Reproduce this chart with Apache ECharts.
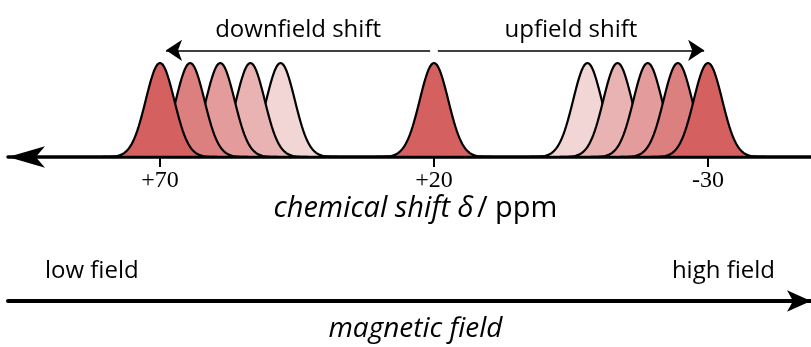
<!DOCTYPE html>
<html>
<head>
<meta charset="utf-8">
<script src="https://cdn.jsdelivr.net/npm/echarts@6/dist/echarts.min.js"></script>
<style>
  html, body { margin: 0; padding: 0; background: #ffffff; }
  #chart { width: 811px; height: 347px; }
</style>
</head>
<body>
<div id="chart"></div>
<script>
// Peak centres on the chemical shift scale (ppm), darkest shade first
const downfieldPeaks = [70, 64.5, 59, 53.5, 48];
const referencePeaks = [20];
const upfieldPeaks = [-30, -24.5, -19, -13.5, -8];
const peakShades = ['#d46060', '#dc7f7f', '#e39b9b', '#eab3b3', '#f2d6d6'];
const peakHeight = 1;

// Labelled ticks of the shift axis
const tickValues = [70, 20, -30];
const tickLabels = ['+70', '+20', '-30'];

// Shift direction arrows: start / end in ppm
const shiftArrowLabels = ['downfield shift', 'upfield shift'];
const shiftArrowFrom = [20.7, 19.3];
const shiftArrowTo = [68.9, -29.3];

// Field direction labels
const fieldLabels = ['low field', 'high field'];

const PEAK_SIGMA = 2.6;     // ppm, width of each Gaussian line
const ARROW_LEVEL = 1.135;  // height of the shift arrows above the baseline

const SANS = '"Open Sans", "Noto Sans", sans-serif';
const SERIF = '"Liberation Serif", serif';

// Build peak items as [centre, shadeIndex]; lighter peaks first so darker ones sit on top
function peakItems(list) {
  const items = list.map((c, i) => [c, i]);
  return items.reverse();
}
const peakData = [].concat(peakItems(downfieldPeaks), peakItems(referencePeaks), peakItems(upfieldPeaks));

function renderPeak(params, api) {
  const c = api.value(0);
  const shade = api.value(1);
  const pts = [];
  const span = 4 * PEAK_SIGMA;
  const n = 80;
  for (let k = 0; k <= n; k++) {
    const x = c - span + (2 * span * k) / n;
    const d = (x - c) / PEAK_SIGMA;
    pts.push(api.coord([x, peakHeight * Math.exp(-0.5 * d * d)]));
  }
  return {
    type: 'polygon',
    shape: { points: pts },
    style: { fill: peakShades[shade], stroke: '#000000', lineWidth: 2.2, lineJoin: 'round' }
  };
}

const chart = echarts.init(document.getElementById('chart'), null, { renderer: 'canvas' });

chart.setOption({
  animation: false,
  backgroundColor: '#ffffff',
  grid: [
    { left: 8, right: 0, top: 63, height: 94, outerBoundsMode: 'none' },
    { left: 8, right: 0, top: 300, height: 1, outerBoundsMode: 'none' }
  ],
  xAxis: [
    {
      type: 'value',
      gridIndex: 0,
      inverse: true,
      min: -48.8,
      max: 97.74,
      splitLine: { show: false },
      axisLine: {
        show: true,
        onZero: false,
        symbol: ['arrow', 'none'],
        symbolSize: [16, 37],
        lineStyle: { color: '#000000', width: 3.5 }
      },
      axisTick: {
        show: true,
        customValues: tickValues,
        length: 10,
        lineStyle: { color: '#000000', width: 2 }
      },
      axisLabel: {
        show: true,
        customValues: tickValues,
        margin: 12,
        color: '#000000',
        fontFamily: SERIF,
        fontSize: 24,
        formatter: (v) => tickLabels[tickValues.indexOf(v)]
      },
      name: '{i|chemical shift δ} {u|/ ppm}',
      nameLocation: 'middle',
      nameGap: 33,
      nameTextStyle: {
        padding: [0, 0, 0, 12],
        rich: {
          i: { fontFamily: SANS, fontStyle: 'italic', fontSize: 29, color: '#000000' },
          u: { fontFamily: SANS, fontSize: 29, color: '#000000' }
        }
      }
    },
    {
      type: 'value',
      gridIndex: 1,
      min: 0,
      max: 1,
      splitLine: { show: false },
      axisTick: { show: false },
      axisLabel: { show: false },
      axisLine: {
        show: true,
        onZero: false,
        symbol: ['none', 'arrow'],
        symbolSize: [16, 24],
        lineStyle: { color: '#000000', width: 4 }
      },
      name: 'magnetic field',
      nameLocation: 'middle',
      nameGap: 14,
      nameTextStyle: {
        fontFamily: SANS,
        fontStyle: 'italic',
        fontSize: 28,
        color: '#000000',
        padding: [0, 0, 0, 12]
      }
    }
  ],
  yAxis: [
    { type: 'value', gridIndex: 0, min: 0, max: 1, show: false },
    { type: 'value', gridIndex: 1, min: 0, max: 1, show: false }
  ],
  series: [
    {
      type: 'custom',
      name: 'peaks',
      xAxisIndex: 0,
      yAxisIndex: 0,
      renderItem: renderPeak,
      clip: false,
      data: peakData,
      z: 3
    },
    {
      type: 'lines',
      name: 'shift arrows',
      coordinateSystem: 'cartesian2d',
      xAxisIndex: 0,
      yAxisIndex: 0,
      clip: false,
      symbol: ['none', 'arrow'],
      symbolSize: [8, 16],
      lineStyle: { color: '#000000', width: 1.6, opacity: 1 },
      label: {
        show: true,
        position: 'insideMiddleTop',
        distance: 8,
        fontFamily: SANS,
        fontSize: 24,
        color: '#000000',
        formatter: (p) => shiftArrowLabels[p.dataIndex]
      },
      data: shiftArrowFrom.map((f, i) => ({
        coords: [[f, ARROW_LEVEL], [shiftArrowTo[i], ARROW_LEVEL]]
      }))
    }
  ],
  graphic: [
    {
      type: 'text',
      left: 45,
      top: 259,
      style: { text: fieldLabels[0], fontFamily: SANS, fontSize: 24, fill: '#000000' }
    },
    {
      type: 'text',
      right: 36,
      top: 259,
      style: { text: fieldLabels[1], fontFamily: SANS, fontSize: 24, fill: '#000000' }
    }
  ]
});
</script>
</body>
</html>
